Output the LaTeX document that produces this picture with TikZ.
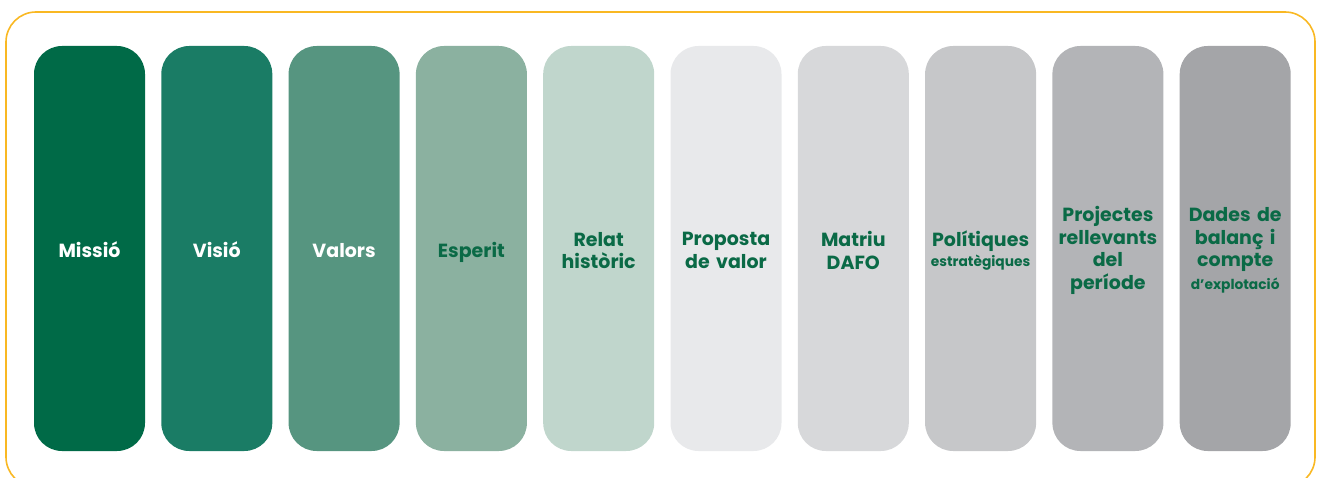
\documentclass[tikz,border=0pt]{standalone}
\usepackage{fontspec}
\setmainfont{Poppins}
\definecolor{frame}{HTML}{F9B823}
\definecolor{txtg}{HTML}{0A6A46}
\definecolor{c1}{HTML}{006A47}
\definecolor{c2}{HTML}{1A7C65}
\definecolor{c3}{HTML}{569580}
\definecolor{c4}{HTML}{8BB1A0}
\definecolor{c5}{HTML}{C0D6CC}
\definecolor{c6}{HTML}{E8E9EB}
\definecolor{c7}{HTML}{D7D8DA}
\definecolor{c8}{HTML}{C6C7C9}
\definecolor{c9}{HTML}{B3B4B7}
\definecolor{c10}{HTML}{A4A5A8}
\tikzset{
  pillar/.style={rounded corners=28pt, minimum width=111pt, minimum height=405pt,
    inner sep=0pt},
  ptext/.style={inner sep=0pt, text width=108pt, align=center,
    font=\fontsize{19}{22.5}\selectfont\bfseries, text=txtg},
  oneline/.style={text depth=0pt},
}
\newcommand{\sml}{\fontsize{13.8}{16}\selectfont}
\begin{document}
\begin{tikzpicture}[x=1pt,y=-1pt]
\useasboundingbox (0,0) rectangle (1320,478);
\begin{scope}
\clip (0,0) rectangle (1320,478);
\draw[frame, line width=1.6pt, rounded corners=30pt] (6,12) rectangle (1315,487);
\end{scope}
\node[pillar, fill=c1] (p1) at (89.5,248.5) {};
\node[pillar, fill=c2] (p2) at (216.8,248.5) {};
\node[pillar, fill=c3] (p3) at (344.1,248.5) {};
\node[pillar, fill=c4] (p4) at (471.4,248.5) {};
\node[pillar, fill=c5] (p5) at (598.7,248.5) {};
\node[pillar, fill=c6] (p6) at (726.0,248.5) {};
\node[pillar, fill=c7] (p7) at (853.3,248.5) {};
\node[pillar, fill=c8] (p8) at (980.6,248.5) {};
\node[pillar, fill=c9] (p9) at (1107.9,248.5) {};
\node[pillar, fill=c10] (p10) at (1235.2,248.5) {};
\node[ptext, oneline, text=white] (t1) at ([yshift=-1.5pt]p1.center) {Missió};
\node[ptext, oneline, text=white] (t2) at ([yshift=-1.5pt]p2.center) {Visió};
\node[ptext, oneline, text=white] (t3) at ([yshift=-1.5pt]p3.center) {Valors};
\node[ptext, oneline] (t4) at ([yshift=-1.5pt]p4.center) {Esperit};
\node[ptext] (t5) at ([yshift=-2pt]p5.center) {Relat\\històric};
\node[ptext] (t6) at ([yshift=-2pt]p6.center) {Proposta\\de valor};
\node[ptext] (t7) at ([yshift=-2pt]p7.center) {Matriu\\DAFO};
\node[ptext] (t8) at ([yshift=-2pt]p8.center) {Polítiques\\[-3pt]{\sml estratègiques}};
\node[ptext] (t9) at ([yshift=-2pt]p9.center) {Projectes\\rellevants\\del\\període};
\node[ptext] (t10) at ([yshift=-2pt]p10.center) {Dades de\\balanç i\\compte\\{\sml d’explotació}};
\end{tikzpicture}
\end{document}
